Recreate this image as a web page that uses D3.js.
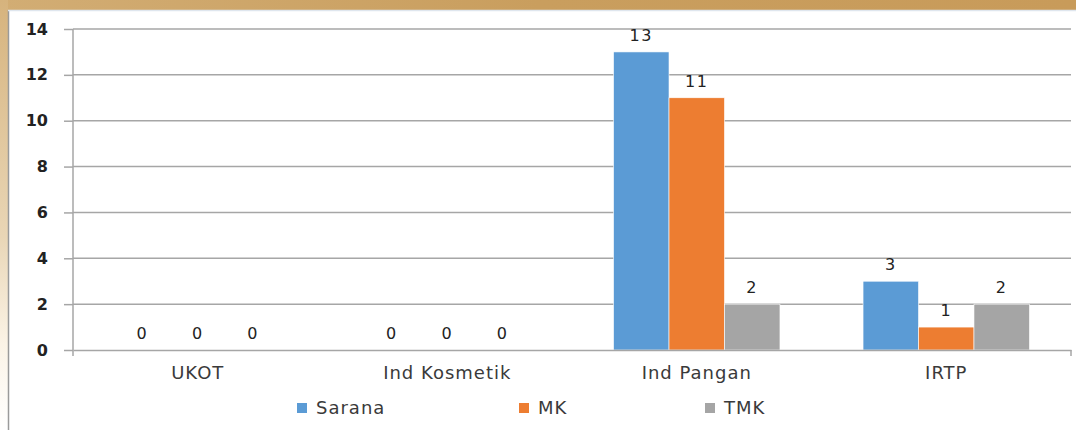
<!DOCTYPE html>
<html>
<head>
<meta charset="utf-8">
<script src="https://cdn.jsdelivr.net/npm/d3@7"></script>
<style>
  html, body { margin: 0; padding: 0; background: #fff; }
  svg { display: block; }
</style>
</head>
<body>
<svg id="chart" width="1076" height="430"></svg>
<script>
// Facility inspection results per category
const categories = ["UKOT", "Ind Kosmetik", "Ind Pangan", "IRTP"];
const seriesNames = ["Sarana", "MK", "TMK"];
const sarana = [0, 0, 13, 3];
const mk = [0, 0, 11, 1];
const tmk = [0, 0, 2, 2];
const yTicks = [0, 2, 4, 6, 8, 10, 12, 14];
const colors = ["#5b9bd5", "#ed7d31", "#a5a5a5"];

const seriesValues = [sarana, mk, tmk];
const rows = categories.map((c, i) => ({
  cat: c,
  vals: seriesNames.map((s, k) => ({ key: s, value: seriesValues[k][i], k }))
}));

const svg = d3.select("#chart");
const W = 1076, H = 430;

// Decorative tan frame behind the white panel
const defs = svg.append("defs");
const g1 = defs.append("linearGradient").attr("id", "tanTop").attr("x1", 0).attr("x2", 1);
g1.append("stop").attr("offset", "0%").attr("stop-color", "#d2ad74");
g1.append("stop").attr("offset", "50%").attr("stop-color", "#c99e5e");
g1.append("stop").attr("offset", "100%").attr("stop-color", "#c89b5a");
const g2 = defs.append("linearGradient").attr("id", "tanLeft").attr("x1", 0).attr("x2", 0).attr("y1", 0).attr("y2", 1);
g2.append("stop").attr("offset", "0%").attr("stop-color", "#d6b37d");
g2.append("stop").attr("offset", "55%").attr("stop-color", "#e9d6b6");
g2.append("stop").attr("offset", "80%").attr("stop-color", "#fbf3e6");
g2.append("stop").attr("offset", "100%").attr("stop-color", "#ffffff");

svg.append("rect").attr("x", 0).attr("y", 0).attr("width", W).attr("height", 10).attr("fill", "url(#tanTop)");
svg.append("rect").attr("x", 0).attr("y", 0).attr("width", 8).attr("height", H).attr("fill", "url(#tanLeft)");

// White chart panel
svg.append("rect").attr("x", 8).attr("y", 10).attr("width", W - 8).attr("height", H - 10)
  .attr("fill", "#ffffff");
svg.append("line").attr("x1", 8.5).attr("x2", 8.5).attr("y1", 10).attr("y2", H)
  .attr("stroke", "#9a9a9a").attr("stroke-width", 1.5);
svg.append("line").attr("x1", 8).attr("x2", W).attr("y1", 10.5).attr("y2", 10.5)
  .attr("stroke", "#dfe6ee").attr("stroke-width", 1.5);

const plot = { left: 73, right: 1071, top: 29, bottom: 350 };

const x0 = d3.scaleBand().domain(categories).range([plot.left, plot.right]).paddingInner(0.333).paddingOuter(0.1665);
const x1 = d3.scaleBand().domain(seriesNames).range([0, x0.bandwidth()]);
const y = d3.scaleLinear().domain([0, 14]).range([plot.bottom, plot.top]);

const font = "'DejaVu Sans', Verdana, sans-serif";
const textColor = "#3a3a3a";

// Gridlines
svg.append("g").selectAll("line").data(yTicks.filter(t => t > 0)).join("line")
  .attr("x1", plot.left).attr("x2", plot.right)
  .attr("y1", d => y(d)).attr("y2", d => y(d))
  .attr("stroke", "#a6a6a6").attr("stroke-width", 1.5);

// Y axis
const yAxis = svg.append("g").attr("transform", `translate(${plot.left},0)`)
  .call(d3.axisLeft(y).tickValues(yTicks).tickSize(9).tickPadding(16).tickFormat(d3.format("d")));
yAxis.select(".domain").attr("stroke", "#a6a6a6").attr("stroke-width", 1.5)
  .attr("d", `M0,${plot.top}V${plot.bottom + 6}`);
yAxis.selectAll(".tick line").attr("stroke", "#a6a6a6").attr("stroke-width", 1.5);
yAxis.selectAll(".tick text").attr("fill", "#222").attr("font-family", font)
  .attr("font-size", 16).attr("font-weight", "bold");

// Bars
const groups = svg.append("g").selectAll("g").data(rows).join("g")
  .attr("transform", d => `translate(${x0(d.cat)},0)`);
groups.selectAll("rect").data(d => d.vals).join("rect")
  .attr("x", d => x1(d.key)).attr("width", x1.bandwidth())
  .attr("y", d => y(d.value)).attr("height", d => y(0) - y(d.value))
  .attr("fill", d => colors[d.k])
  .attr("stroke", d => d.value > 0 ? "#ffffff" : "none").attr("stroke-width", 0.6);

// Value labels
groups.selectAll("text").data(d => d.vals).join("text")
  .attr("x", d => x1(d.key) + x1.bandwidth() / 2)
  .attr("y", d => y(d.value) - 11)
  .attr("text-anchor", "middle")
  .attr("font-family", font).attr("font-size", 16).attr("letter-spacing", 1.5)
  .attr("fill", "#222")
  .text(d => d.value);

// X axis
const xAxis = svg.append("g").attr("transform", `translate(0,${plot.bottom})`)
  .call(d3.axisBottom(x0).tickSize(0).tickPadding(16));
xAxis.select(".domain").attr("stroke", "#a6a6a6").attr("stroke-width", 1.5);
xAxis.selectAll(".tick text").attr("fill", textColor).attr("font-family", font)
  .attr("font-size", 18).attr("letter-spacing", 1);
// Closing tick at the right end of the category axis
svg.append("line").attr("x1", plot.right).attr("x2", plot.right)
  .attr("y1", plot.bottom).attr("y2", plot.bottom + 6)
  .attr("stroke", "#a6a6a6").attr("stroke-width", 1.5);

// Legend
const legendX = [297, 519, 705];
const legend = svg.append("g").selectAll("g").data(seriesNames).join("g")
  .attr("transform", (d, i) => `translate(${legendX[i]},408)`);
legend.append("rect").attr("x", 0).attr("y", -5).attr("width", 10).attr("height", 10)
  .attr("fill", (d, i) => colors[i]);
legend.append("text").attr("x", 19).attr("y", 0).attr("dy", "0.35em")
  .attr("font-family", font).attr("font-size", 18).attr("letter-spacing", 1)
  .attr("fill", textColor).text(d => d);
</script>
</body>
</html>
